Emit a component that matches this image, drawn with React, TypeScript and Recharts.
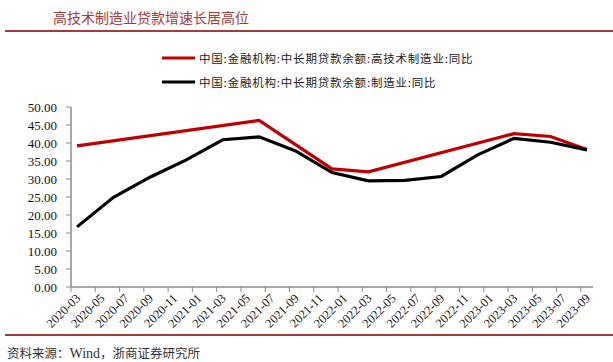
import React from 'react';
import { LineChart, Line, XAxis, YAxis } from 'recharts';

const tickLabels = ['2020-03','2020-05','2020-07','2020-09','2020-11','2021-01','2021-03','2021-05','2021-07','2021-09','2021-11','2022-01','2022-03','2022-05','2022-07','2022-09','2022-11','2023-01','2023-03','2023-05','2023-07','2023-09'];
const quarters = ['2020-03','2020-06','2020-09','2020-12','2021-03','2021-06','2021-09','2021-12','2022-03','2022-06','2022-09','2022-12','2023-03','2023-06','2023-09'];
const hiTech: (number | null)[] = [39.2, null, null, null, null, 46.3, null, 32.8, 32.0, null, null, null, 42.6, 41.8, 38.2];
const manuf: (number | null)[] = [16.7, 24.9, 30.5, 35.3, 40.9, 41.7, 37.8, 31.8, 29.5, 29.6, 30.7, 36.7, 41.3, 40.2, 38.1];
const yTicks = [0, 5, 10, 15, 20, 25, 30, 35, 40, 45, 50];
const seriesNames = ['中国:金融机构:中长期贷款余额:高技术制造业:同比', '中国:金融机构:中长期贷款余额:制造业:同比'];
const title = '高技术制造业贷款增速长居高位';

const START = tickLabels[0];
const monthIndex = (s: string) => {
  const [y, m] = s.split('-').map(Number);
  const [y0, m0] = START.split('-').map(Number);
  return (y - y0) * 12 + (m - m0);
};
const lastIdx = monthIndex(tickLabels[tickLabels.length - 1]);

const data = quarters.map((q, i) => ({ m: monthIndex(q), hiTech: hiTech[i], manuf: manuf[i] }));
const xTicks = tickLabels.map(monthIndex);

const W = 613, H = 362;
const LEFT = 71, RIGHT = 20, TOP = 107, XH = 75;
const plotW = W - LEFT - RIGHT;
const half = plotW / (lastIdx + 1) / 2;

const RED = '#c00000';
const AXIS = '#8c8c8c';
const DEEP = '#a83a3a';

const XTick = (props: any) => {
  const { x, y, payload } = props;
  const label = tickLabels[xTicks.indexOf(payload.value)] ?? '';
  return (
    <g>
      <line x1={x - half} x2={x - half} y1={y} y2={y + 5} stroke={AXIS} strokeWidth={1} />
      <text
        transform={`translate(${x + 4},${y + 12}) rotate(-45)`}
        textAnchor="end"
        fontFamily="'Liberation Serif', serif"
        fontSize={12.5}
        fill="#111"
      >
        {label}
      </text>
    </g>
  );
};

export default function App() {
  return (
    <div style={{ position: 'absolute', left: 0, top: 0, width: W, height: H, background: '#fff', overflow: 'hidden' }}>
      <div style={{ position: 'absolute', left: 53, top: 7, fontFamily: "'Noto Sans CJK SC', sans-serif", fontSize: 14, lineHeight: '20px', color: DEEP, whiteSpace: 'nowrap' }}>{title}</div>
      <div style={{ position: 'absolute', left: 5, right: 0, top: 30, height: 2, background: DEEP }} />
      <LineChart width={W} height={H} data={data} margin={{ top: TOP, right: RIGHT, left: 0, bottom: 0 }}>
        <XAxis
          dataKey="m"
          type="number"
          domain={[-0.5, lastIdx + 0.5]}
          ticks={xTicks}
          interval={0}
          height={XH}
          tickSize={0}
          tickMargin={0}
          tickLine={false}
          axisLine={{ stroke: AXIS, strokeWidth: 1.5 }}
          tick={<XTick />}
        />
        <YAxis
          type="number"
          domain={[0, 50]}
          ticks={yTicks}
          interval={0}
          width={LEFT}
          tickSize={5}
          tickMargin={9}
          axisLine={{ stroke: AXIS, strokeWidth: 1.5 }}
          tickLine={{ stroke: AXIS }}
          tick={{ fontFamily: "'Liberation Serif', serif", fontSize: 13, fill: '#111' }}
          tickFormatter={(v: number) => v.toFixed(2)}
        />
        <Line type="linear" dataKey="hiTech" stroke={RED} strokeWidth={3.2} dot={false} connectNulls isAnimationActive={false} />
        <Line type="linear" dataKey="manuf" stroke="#000" strokeWidth={3.2} dot={false} connectNulls isAnimationActive={false} />
      </LineChart>
      {seriesNames.map((n, i) => (
        <div key={n} style={{ position: 'absolute', left: 162, top: 48 + i * 24, height: 20, display: 'flex', alignItems: 'center', whiteSpace: 'nowrap' }}>
          <svg width={34} height={20}><line x1={0} x2={33} y1={10} y2={10} stroke={i === 0 ? RED : '#000'} strokeWidth={3.2} /></svg>
          <span style={{ marginLeft: 3, fontFamily: "'Noto Sans CJK SC', sans-serif", fontSize: 11.5, letterSpacing: 0.8, color: '#222' }}>{n}</span>
        </div>
      ))}
      <div style={{ position: 'absolute', left: 5, right: 0, top: 334, height: 1.5, background: DEEP }} />
      <div style={{ position: 'absolute', left: 7, top: 343, fontFamily: "'Noto Sans CJK SC', sans-serif", fontSize: 12.5, lineHeight: '19px', color: '#333', whiteSpace: 'nowrap' }}>
        资料来源：<span style={{ fontFamily: "'Liberation Serif', serif", fontSize: 14 }}>Wind</span>，浙商证券研究所
      </div>
    </div>
  );
}
